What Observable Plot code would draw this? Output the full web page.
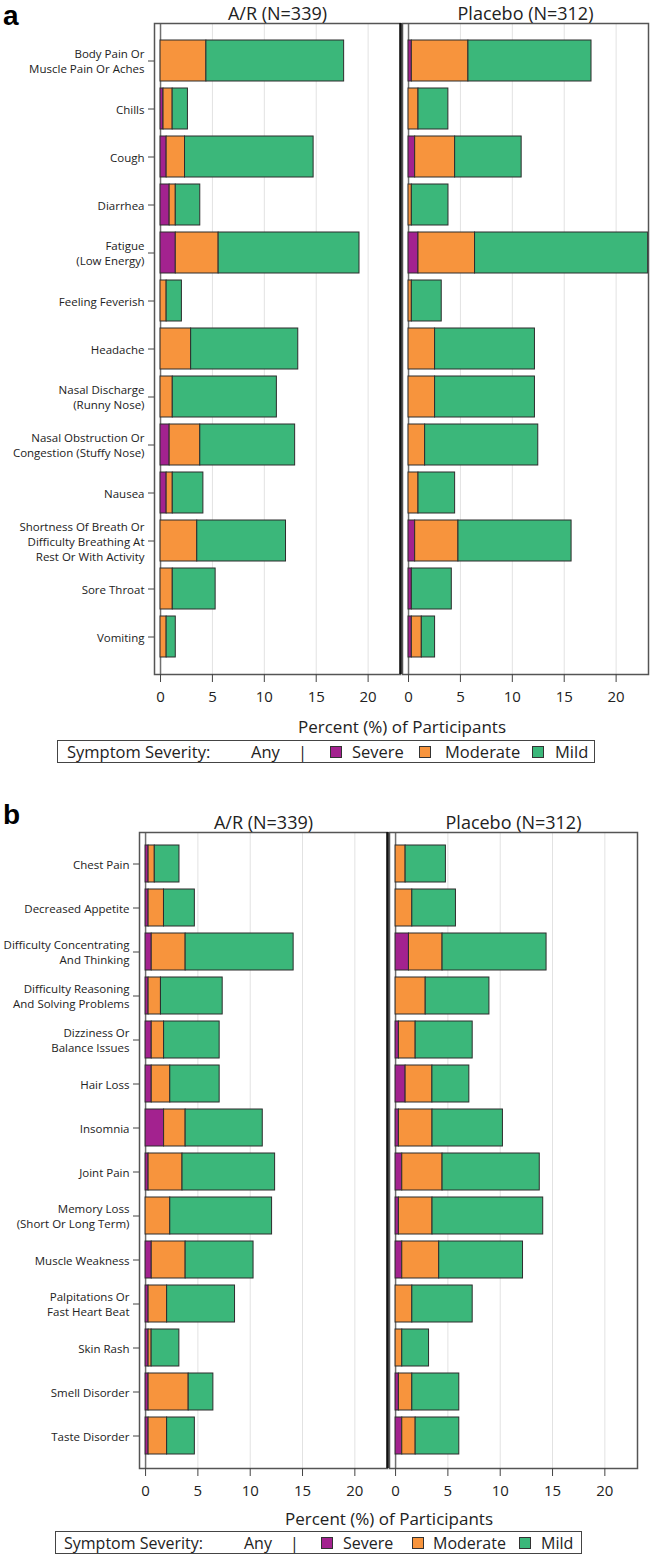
<!DOCTYPE html>
<html><head><meta charset="utf-8">
<script src="https://cdn.jsdelivr.net/npm/d3@7"></script>
<script src="https://cdn.jsdelivr.net/npm/@observablehq/plot@0.6"></script>
<style>
body{margin:0;background:#fff;font-family:"Open Sans",sans-serif;color:#222;}
.panel{position:relative;width:654px;overflow:hidden;}
.panel svg{position:absolute;left:0;}
.tag{position:absolute;left:3px;font:bold 28px/32px "Liberation Sans",Arial,sans-serif;color:#000;}
.xtitle{position:absolute;line-height:18px;transform:translateX(-50%);white-space:nowrap;}
.legend{position:absolute;border:1px solid #444;box-sizing:border-box;}
.legend span{position:absolute;top:50%;transform:translateY(-50%);white-space:nowrap;line-height:1;}
.legend span.sw{width:10px;height:10px;border:1px solid #333;transform:translateY(-50%);}
</style></head><body>
<div id="pa" class="panel" style="height:764px"></div>
<div id="pb" class="panel" style="height:794px"></div>
<script>
const severities = ["Severe", "Moderate", "Mild"];
const severityColors = ["#a3228f", "#f7943d", "#3bb77a"];
const arms = ["A/R (N=339)", "Placebo (N=312)"];
const xTicks = [0, 5, 10, 15, 20];
const xTitle = "Percent (%) of Participants";
const legendTitle = "Symptom Severity:";

// Panel a
const symptomsA = [
  "Body Pain Or\nMuscle Pain Or Aches", "Chills", "Cough", "Diarrhea",
  "Fatigue\n(Low Energy)", "Feeling Feverish", "Headache",
  "Nasal Discharge\n(Runny Nose)", "Nasal Obstruction Or\nCongestion (Stuffy Nose)",
  "Nausea", "Shortness Of Breath Or\nDifficulty Breathing At\nRest Or With Activity",
  "Sore Throat", "Vomiting"
];
const arSevereA   = [0,    0.29, 0.59, 0.88, 1.47, 0,    0,    0,    0.88, 0.59, 0,    0,    0];
const arModerateA = [4.42, 0.88, 1.77, 0.59, 4.13, 0.59, 2.95, 1.18, 2.95, 0.59, 3.54, 1.18, 0.59];
const arMildA     = [13.27,1.47, 12.39,2.36, 13.57,1.47, 10.32,10.03,9.14, 2.95, 8.55, 4.13, 0.88];
const pbSevereA   = [0.32, 0,    0.64, 0,    0.96, 0,    0,    0,    0,    0,    0.64, 0.32, 0.32];
const pbModerateA = [5.45, 0.96, 3.85, 0.32, 5.45, 0.32, 2.56, 2.56, 1.60, 0.96, 4.17, 0,    0.96];
const pbMildA     = [11.86,2.88, 6.41, 3.53, 16.67,2.88, 9.62, 9.62, 10.90,3.53, 10.90,3.85, 1.28];

// Panel b
const symptomsB = [
  "Chest Pain", "Decreased Appetite", "Difficulty Concentrating\nAnd Thinking",
  "Difficulty Reasoning\nAnd Solving Problems", "Dizziness Or\nBalance Issues",
  "Hair Loss", "Insomnia", "Joint Pain", "Memory Loss\n(Short Or Long Term)",
  "Muscle Weakness", "Palpitations Or\nFast Heart Beat", "Skin Rash",
  "Smell Disorder", "Taste Disorder"
];
const arSevereB   = [0.29, 0.29, 0.59, 0.29, 0.59, 0.59, 1.77, 0.29, 0,    0.59, 0.29, 0.29, 0.29, 0.29];
const arModerateB = [0.59, 1.47, 3.24, 1.18, 1.18, 1.77, 2.06, 3.24, 2.36, 3.24, 1.77, 0.29, 3.83, 1.77];
const arMildB     = [2.36, 2.95, 10.32,5.90, 5.31, 4.72, 7.37, 8.85, 9.73, 6.49, 6.49, 2.65, 2.36, 2.65];
const pbSevereB   = [0,    0,    1.28, 0,    0.32, 0.96, 0.32, 0.64, 0.32, 0.64, 0,    0,    0.32, 0.64];
const pbModerateB = [0.96, 1.60, 3.21, 2.88, 1.60, 2.56, 3.21, 3.85, 3.21, 3.53, 1.60, 0.64, 1.28, 1.28];
const pbMildB     = [3.85, 4.17, 9.94, 6.09, 5.45, 3.53, 6.73, 9.29, 10.58,8.01, 5.77, 2.56, 4.49, 4.17];

function rowsFor(symptoms, arm, sev, mod, mild) {
  const out = [];
  symptoms.forEach((s, i) => {
    [sev[i], mod[i], mild[i]].forEach((v, k) => {
      out.push({symptom: s, arm, severity: severities[k], value: v});
    });
  });
  return out.filter(d => d.value > 0);
}

const X_MIN = -0.58, X_MAX = 23.12;

function makePlot(symptoms, rows, m) {
  return Plot.plot({
    width: 654, height: m.height,
    marginLeft: m.left, marginRight: m.right, marginTop: m.top, marginBottom: m.bottom,
    style: {fontFamily: "'Open Sans', sans-serif", color: "#222", background: "white", overflow: "visible"},
    x: {domain: [X_MIN, X_MAX]},
    y: {domain: symptoms, paddingInner: 0.15, paddingOuter: 0.3},
    fx: {domain: arms, paddingInner: 0.008, paddingOuter: 0},
    color: {domain: severities, range: severityColors},
    marks: [
      Plot.gridX(xTicks.slice(1), {stroke: "#e2e2e2", strokeOpacity: 1, strokeWidth: 1}),
      Plot.ruleX([0], {stroke: "#707070", strokeWidth: 1.5}),
      Plot.barX(rows, {x: "value", y: "symptom", fx: "arm", fill: "severity", stroke: "#2d2d2d", strokeWidth: 1}),
      Plot.frame({stroke: "#555", strokeWidth: 1.5}),
      Plot.ruleX([{arm: arms[0]}], {x: () => X_MAX, fx: "arm", stroke: "#111", strokeWidth: 2.5}),
      Plot.axisX({ticks: xTicks, tickSize: 8, tickPadding: 9, fontSize: 15, label: null, stroke: "#444"}),
      Plot.axisY({tickSize: 6, tickPadding: 4, fontSize: 11.5, lineHeight: 1.3, label: null, stroke: "#444"}),
      Plot.axisFx({anchor: "top", tickSize: 0, tickPadding: 4, fontSize: 18, label: null})
    ]
  });
}

function buildPanel(id, tag, symptoms, rows, m, lay) {
  const host = document.getElementById(id);
  const svg = makePlot(symptoms, rows, m);
  svg.style.top = "0px";
  host.appendChild(svg);
  const t = document.createElement("div");
  t.className = "tag"; t.textContent = tag; t.style.top = lay.tagTop + "px";
  host.appendChild(t);
  const xt = document.createElement("div");
  xt.className = "xtitle"; xt.textContent = xTitle;
  xt.style.left = lay.titleX + "px"; xt.style.top = lay.titleTop + "px"; xt.style.fontSize = lay.titleSize + "px";
  host.appendChild(xt);
  const lg = document.createElement("div");
  lg.className = "legend";
  lg.style.left = lay.legLeft + "px"; lg.style.top = lay.legTop + "px";
  lg.style.width = lay.legWidth + "px"; lg.style.height = "23px";
  lg.style.fontSize = lay.legSize + "px";
  const items = [
    {text: legendTitle}, {text: "Any"}, {text: "|"},
    {sw: severityColors[0]}, {text: severities[0]},
    {sw: severityColors[1]}, {text: severities[1]},
    {sw: severityColors[2]}, {text: severities[2]}
  ];
  items.forEach((it, i) => {
    const s = document.createElement("span");
    if (it.sw) { s.className = "sw"; s.style.background = it.sw; }
    else s.textContent = it.text;
    s.style.left = lay.legPos[i] + "px";
    lg.appendChild(s);
  });
  host.appendChild(lg);
}

buildPanel("pa", "a", symptomsA,
  [...rowsFor(symptomsA, arms[0], arSevereA, arModerateA, arMildA),
   ...rowsFor(symptomsA, arms[1], pbSevereA, pbModerateA, pbMildA)],
  {height: 740, left: 154, right: 5, top: 23, bottom: 66},
  {tagTop: 0, titleX: 402, titleTop: 718, titleSize: 17, legLeft: 57, legTop: 740, legWidth: 538, legSize: 16.5,
   legPos: [9, 193, 240, 272, 294, 361, 387, 474, 497]});

buildPanel("pb", "b", symptomsB,
  [...rowsFor(symptomsB, arms[0], arSevereB, arModerateB, arMildB),
   ...rowsFor(symptomsB, arms[1], pbSevereB, pbModerateB, pbMildB)],
  {height: 768, left: 139, right: 17, top: 68, bottom: 64},
  {tagTop: 35, titleX: 389, titleTop: 746, titleSize: 17, legLeft: 55, legTop: 767, legWidth: 527, legSize: 16,
   legPos: [8, 188, 234, 265, 287, 356, 377, 463, 485]});
</script>
</body></html>
